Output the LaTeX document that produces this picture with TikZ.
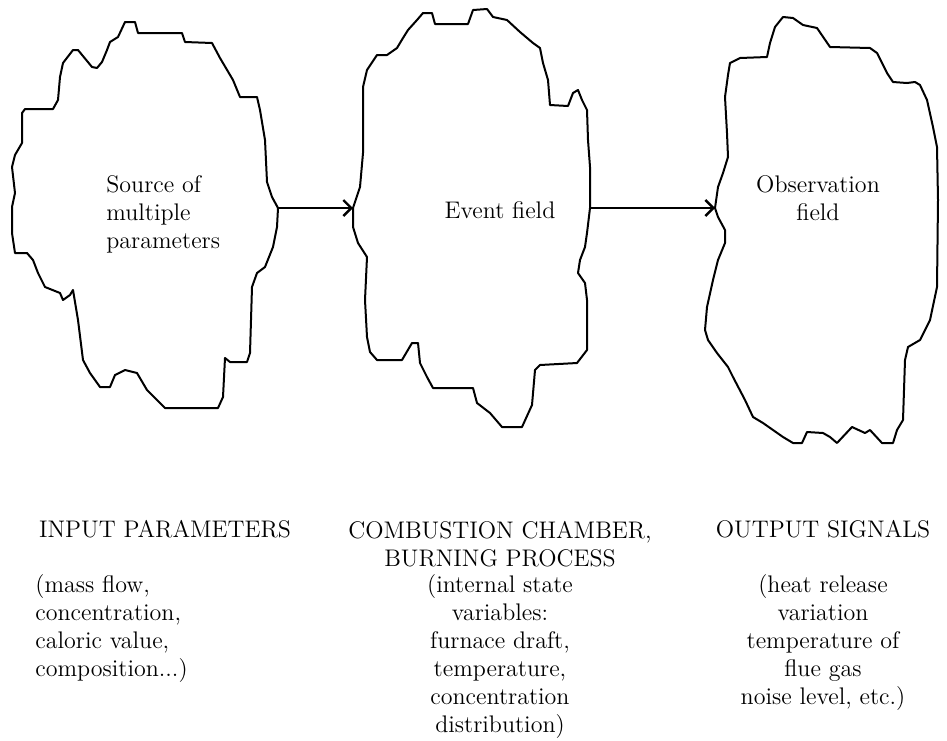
\documentclass[tikz,border=0pt]{standalone}
\usepackage{tikz}
\usetikzlibrary{arrows.meta}
\tikzset{
    blob/.style={draw=black, line width=1pt, line join=round},
    flow/.style={draw=black, line width=1.2pt, -{Straight Barb[length=4pt,width=8pt]}},
    fieldtext/.style={font=\fontsize{12}{14}\selectfont, inner sep=0pt, anchor=north},
    captext/.style={font=\fontsize{12}{14}\selectfont, inner sep=0pt, anchor=north}
}
\begin{document}
\begin{tikzpicture}[x=0.5pt, y=-0.5pt]
    \useasboundingbox (0,0) rectangle (947,740);
    \draw[blob] (125,22) -- (135,22) -- (138,33) -- (182,33) -- (185,42) -- (212,43) -- (220,58) -- (233,80) -- (240,97) -- (257,97)
        -- (260,110) -- (265,140) -- (267,182) -- (272,197) -- (278,208) -- (277,227) -- (273,247) -- (265,267) -- (257,273)
        -- (252,287) -- (250,353) -- (247,362) -- (230,362) -- (225,358) -- (223,397) -- (218,408) -- (165,408) -- (147,390)
        -- (137,373) -- (125,370) -- (115,375) -- (110,387) -- (100,387) -- (90,373) -- (83,360) -- (78,320) -- (73,290)
        -- (70,295) -- (63,300) -- (60,293) -- (45,287) -- (38,273) -- (33,260) -- (27,253) -- (15,253) -- (12,233)
        -- (12,207) -- (15,193) -- (12,167) -- (15,155) -- (22,143) -- (22,113) -- (25,109) -- (53,109) -- (58,100)
        -- (60,77) -- (63,63) -- (73,50) -- (78,50) -- (92,67) -- (97,68) -- (102,62) -- (107,50) -- (110,42) -- (118,37) -- cycle;
    \draw[blob] (423,13) -- (432,13) -- (435,24) -- (468,24) -- (473,10) -- (487,9) -- (493,17) -- (507,20) -- (520,32) -- (533,43)
        -- (540,48) -- (543,63) -- (548,80) -- (550,105) -- (568,106) -- (573,93) -- (578,90) -- (582,100) -- (587,110)
        -- (588,140) -- (590,167) -- (590,208) -- (587,233) -- (585,247) -- (580,260) -- (578,273) -- (585,283) -- (587,300)
        -- (587,350) -- (577,363) -- (540,365) -- (535,370) -- (532,405) -- (522,427) -- (502,427) -- (490,413) -- (477,403)
        -- (473,388) -- (433,388) -- (427,377) -- (420,363) -- (418,343) -- (412,343) -- (402,360) -- (377,360) -- (370,352)
        -- (367,337) -- (365,300) -- (367,257) -- (358,243) -- (353,227) -- (353,208) -- (360,187) -- (363,153) -- (363,87)
        -- (367,70) -- (375,58) -- (377,55) -- (387,55) -- (397,48) -- (403,38) -- (408,30) -- (417,20) -- cycle;
    \draw[blob] (783,17) -- (793,18) -- (803,25) -- (817,28) -- (830,47) -- (870,48) -- (877,53) -- (887,73) -- (893,82) -- (907,83)
        -- (915,82) -- (920,85) -- (927,100) -- (933,127) -- (937,147) -- (938,200) -- (937,287) -- (930,320) -- (920,340)
        -- (908,347) -- (905,360) -- (903,420) -- (897,430) -- (893,443) -- (882,443) -- (870,430) -- (865,433) -- (852,427)
        -- (837,443) -- (830,437) -- (823,433) -- (807,432) -- (802,443) -- (793,443) -- (783,437) -- (763,423) -- (753,417)
        -- (745,400) -- (733,377) -- (728,367) -- (717,353) -- (708,340) -- (705,330) -- (707,307) -- (713,280) -- (718,260)
        -- (725,243) -- (725,230) -- (718,217) -- (715,208) -- (718,187) -- (723,173) -- (728,157) -- (727,133) -- (725,97)
        -- (728,75) -- (730,63) -- (740,58) -- (767,57) -- (770,43) -- (775,27) -- cycle;
    \coordinate (source-e) at (278,208);
    \coordinate (event-w)  at (353,208);
    \coordinate (event-e)  at (590,208);
    \coordinate (obs-w)    at (715,208);
    \draw[flow] (source-e) -- (event-w);
    \draw[flow] (event-e)  -- (obs-w);
    \node[fieldtext, anchor=north west, align=left] (source) at (106,175) {Source of\\multiple\\parameters};
    \node[fieldtext, anchor=base]                   (event)  at (500,218) {Event field};
    \node[fieldtext, align=center]                  (obs)    at (818,175) {Observation\\field};
    \node[captext, anchor=base] (inhead)  at (165,537) {INPUT PARAMETERS};
    \node[captext, align=center] (chamberhead) at (500,521) {COMBUSTION CHAMBER,\\BURNING PROCESS};
    \node[captext, anchor=base] (outhead) at (823,537) {OUTPUT SIGNALS};
    \node[captext, anchor=north west, align=left] (inlist) at (35,574)
        {(mass flow,\\concentration,\\caloric value,\\composition...)};
    \node[captext, align=center] (chamberlist) at (500,574)
        {(internal state\\variables:\\furnace draft,\\temperature,\\concentration\\distribution)};
    \node[captext, align=center] (outlist) at (823,574)
        {(heat release\\variation\\temperature of\\flue gas\\noise level, etc.)};
\end{tikzpicture}
\end{document}
